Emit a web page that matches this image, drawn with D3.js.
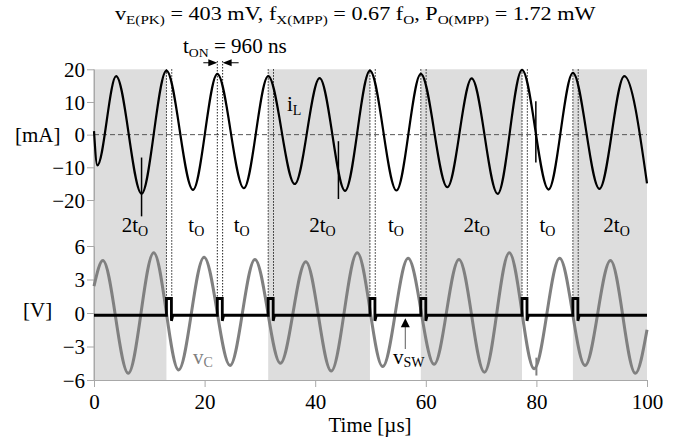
<!DOCTYPE html>
<html>
<head>
<meta charset="utf-8">
<script src="https://cdn.jsdelivr.net/npm/d3@7"></script>
<style>
  body { margin: 0; background: #fff; }
  svg text { font-family: "Liberation Serif", "Times New Roman", serif; }
</style>
</head>
<body>
<div id="chart"></div>
<script>
// values read off the scope capture (time in us)
// inductor current i_L [mA] : extrema + ends
const iL = [
  [0, 1.1], [0.6, -9.4], [4.0, 17.9], [8.6, -18.1], [13.1, 19.6], [17.9, -16.9],
  [22.3, 18.6], [27.1, -16.4], [31.5, 17.9], [36.3, -15.1], [40.8, 17.3], [45.4, -17.2],
  [49.9, 19.6], [54.7, -17.1], [59.1, 18.6], [63.9, -16.1], [68.3, 17.2], [73.0, -18.1],
  [77.4, 19.8], [82.2, -16.8], [86.6, 18.9], [91.4, -16.6], [95.9, 17.9], [100, -14.9]
];
// glitches on i_L : [t, from, to]
const iLSpikes = [[8.6, -7, -25], [44.2, -2, -19.7], [79.9, 10.2, -8.5]];

// capacitor voltage v_C [V]
const vC = [
  [0, 2.4], [1.6, 4.7], [6.2, -5.4], [10.8, 5.4], [15.3, -5.1], [19.9, 5.0],
  [24.6, -4.7], [29.1, 4.8], [33.7, -4.5], [38.3, 4.6], [42.9, -5.2], [47.6, 5.4],
  [52.2, -4.8], [56.8, 4.9], [61.5, -4.6], [66.0, 4.8], [70.6, -5.3], [75.1, 5.4],
  [79.6, -5.0], [84.2, 4.9], [88.8, -4.7], [93.4, 4.7], [97.9, -5.4], [100, -1.5]
];
const vCSpikes = [[80.0, -4.0, -5.6]];

// switch events
const switchTimes = [13.1, 22.3, 31.5, 49.9, 59.1, 77.4, 86.6];
const tOn = 0.96;
const vswBase = -0.2, vswHigh = 1.3, vswDip = -0.7;

// shaded (2tO) intervals
const grayBands = [[0, 13.1], [31.5, 49.9], [59.1, 77.4], [86.6, 100]];
const intervalLabels = [
  [7.4, "2"], [18.5, ""], [26.7, ""], [41.3, "2"], [54.6, ""], [69.2, "2"], [82.0, ""], [94.5, "2"]
];

const xTicks = [0, 20, 40, 60, 80, 100];
const iTicks = [-20, -10, 0, 10, 20];
const vTicks = [-6, -3, 0, 3, 6];

// ---- layout
const W = 696, H = 439;
const x = d3.scaleLinear().domain([0, 100]).range([94, 647]);
const yTop = d3.scaleLinear().domain([-20, 20]).range([200, 69.3]);
const yBot = d3.scaleLinear().domain([-6, 6]).range([380, 246]);

const svg = d3.select("#chart").append("svg")
    .attr("width", W).attr("height", H);

const minus = d => (d < 0 ? "\u2212" + Math.abs(d) : "" + d);

// gray bands over both panels
svg.selectAll(".band")
    .data(grayBands)
    .enter().append("rect")
    .attr("class", "band")
    .attr("x", d => x(d[0]))
    .attr("width", d => x(d[1]) - x(d[0]))
    .attr("y", yTop(20))
    .attr("height", yBot(-6) - yTop(20))
    .attr("fill", "#dddddd");

// axes
function styleAxis(g) {
    g.selectAll("path.domain").attr("stroke", "#a8a8a8");
    g.selectAll(".tick line").attr("stroke", "#a8a8a8");
    g.selectAll(".tick text")
        .style("font-family", '"Liberation Serif", serif')
        .style("font-size", "21px")
        .attr("fill", "#000");
}

svg.append("g")
    .attr("transform", `translate(${x(0)},0)`)
    .call(d3.axisLeft(yTop).tickValues(iTicks).tickFormat(minus).tickSize(7).tickSizeOuter(0).tickPadding(2))
    .call(styleAxis)
    .call(g => g.selectAll(".tick text").attr("dy", "0.34em"));

svg.append("g")
    .attr("transform", `translate(${x(0)},0)`)
    .call(d3.axisLeft(yBot).tickValues(vTicks).tickFormat(minus).tickSize(7).tickSizeOuter(0).tickPadding(2))
    .call(styleAxis)
    .call(g => g.selectAll(".tick text").attr("dy", "0.34em"));

// connect the left axis through the gap
svg.append("line")
    .attr("x1", x(0)).attr("x2", x(0))
    .attr("y1", yTop(20)).attr("y2", yBot(-6))
    .attr("stroke", "#a8a8a8");

svg.append("g")
    .attr("transform", `translate(0,${yBot(-6)})`)
    .call(d3.axisBottom(x).tickValues(xTicks).tickSize(7).tickSizeOuter(0).tickPadding(7))
    .call(styleAxis);

// zero line of the current panel
svg.append("line")
    .attr("x1", x(0)).attr("x2", x(100))
    .attr("y1", yTop(0)).attr("y2", yTop(0))
    .attr("stroke", "#555")
    .attr("stroke-dasharray", "5,3");

// dotted switch markers
const markers = [];
switchTimes.forEach(s => {
    const top = s === 22.3 ? 22.5 : 20;
    markers.push({ t: s, top }, { t: s + tOn, top });
});
svg.selectAll(".mark")
    .data(markers)
    .enter().append("line")
    .attr("class", "mark")
    .attr("x1", d => x(d.t)).attr("x2", d => x(d.t))
    .attr("y1", d => yTop(d.top))
    .attr("y2", yBot(vswHigh))
    .attr("stroke", "#000")
    .attr("stroke-width", 1)
    .attr("stroke-dasharray", "1.3,1.7");

// v_C
const lineBot = d3.line().x(d => x(d[0])).y(d => yBot(d[1])).curve(d3.curveMonotoneX);
svg.append("path")
    .datum(vC)
    .attr("d", lineBot)
    .attr("fill", "none")
    .attr("stroke", "#808080")
    .attr("stroke-width", 3);
svg.selectAll(".vcspike")
    .data(vCSpikes)
    .enter().append("line")
    .attr("x1", d => x(d[0])).attr("x2", d => x(d[0]))
    .attr("y1", d => yBot(d[1])).attr("y2", d => yBot(d[2]))
    .attr("stroke", "#808080").attr("stroke-width", 2);

// v_SW pulses
const vsw = [[0, vswBase]];
switchTimes.forEach(s => {
    vsw.push([s, vswBase], [s, vswHigh], [s + 0.9, vswHigh], [s + 0.9, vswDip], [s + 1.15, vswBase]);
});
vsw.push([100, vswBase]);
svg.append("path")
    .datum(vsw)
    .attr("d", d3.line().x(d => x(d[0])).y(d => yBot(d[1])))
    .attr("fill", "none")
    .attr("stroke", "#000")
    .attr("stroke-width", 2.8);

// i_L
const lineTop = d3.line().x(d => x(d[0])).y(d => yTop(d[1])).curve(d3.curveMonotoneX);
svg.append("path")
    .datum(iL)
    .attr("d", lineTop)
    .attr("fill", "none")
    .attr("stroke", "#000")
    .attr("stroke-width", 2.2);
svg.selectAll(".ilspike")
    .data(iLSpikes)
    .enter().append("line")
    .attr("x1", d => x(d[0])).attr("x2", d => x(d[0]))
    .attr("y1", d => yTop(d[1])).attr("y2", d => yTop(d[2]))
    .attr("stroke", "#000").attr("stroke-width", 1.5);

function fitWidth(t, x0, target) {
    const w = t.node().getBBox().width;
    const k = target / w;
    t.attr("transform", `translate(${x0},0) scale(${k},1) translate(${-x0},0)`);
}

// interval labels
intervalLabels.forEach(d => {
    const t = svg.append("text")
        .attr("x", x(d[0])).attr("y", 232)
        .attr("text-anchor", "middle")
        .style("font-size", "21px");
    t.append("tspan").text(d[1] + "t");
    t.append("tspan").text("O").style("font-size", "14px").attr("dy", 4);
});

// title
const title = svg.append("text").attr("x", 115).attr("y", 20).style("font-size", "19px");
[["v"], ["E(PK)", 1], [" = 403 mV, f", 0, 1], ["X(MPP)", 1], [" = 0.67 f", 0, 1], ["O", 1],
 [", P", 0, 1], ["O(MPP)", 1], [" = 1.72 mW", 0, 1]].forEach(p => {
    const sp = title.append("tspan").text(p[0]);
    if (p[1]) sp.style("font-size", "13px").attr("dy", 4);
    else if (p[2]) sp.attr("dy", -4);
});
fitWidth(title, 115, 481);

// t_ON annotation
const ton = svg.append("text").attr("x", 183).attr("y", 53).style("font-size", "20px");
ton.append("tspan").text("t");
ton.append("tspan").text("ON").style("font-size", "13px").attr("dy", 4);
ton.append("tspan").text(" = 960 ns").attr("dy", -4);
fitWidth(ton, 183, 104);

const arrowY = yTop(22);
const a1 = x(22.3), a2 = x(22.3 + tOn);
svg.append("line").attr("x1", a1 - 14).attr("x2", a1 - 6).attr("y1", arrowY).attr("y2", arrowY)
    .attr("stroke", "#000").attr("stroke-width", 1);
svg.append("path").attr("d", `M${a1},${arrowY} L${a1 - 9},${arrowY - 3.5} L${a1 - 9},${arrowY + 3.5} Z`).attr("fill", "#000");
svg.append("line").attr("x1", a2 + 6).attr("x2", a2 + 16).attr("y1", arrowY).attr("y2", arrowY)
    .attr("stroke", "#000").attr("stroke-width", 1);
svg.append("path").attr("d", `M${a2},${arrowY} L${a2 + 9},${arrowY - 3.5} L${a2 + 9},${arrowY + 3.5} Z`).attr("fill", "#000");

// unit labels
svg.append("text").attr("x", 15).attr("y", 142).style("font-size", "21px").text("[mA]");
svg.append("text").attr("x", 23).attr("y", 317).style("font-size", "21px").text("[V]");
svg.append("text").attr("x", 370).attr("y", 432).attr("text-anchor", "middle")
    .style("font-size", "21px").text("Time [\u00b5s]");

// trace labels
const il = svg.append("text").attr("x", 287).attr("y", 111).style("font-size", "21px");
il.append("tspan").text("i");
il.append("tspan").text("L").style("font-size", "14px").attr("dy", 4);

const vc = svg.append("text").attr("x", 193).attr("y", 364).style("font-size", "21px").style("fill", "#808080");
vc.append("tspan").text("v");
vc.append("tspan").text("C").style("font-size", "14px").attr("dy", 3);

const vs = svg.append("text").attr("x", 393).attr("y", 364).style("font-size", "21px");
vs.append("tspan").text("v");
vs.append("tspan").text("SW").style("font-size", "14px").attr("dy", 3);

// v_SW pointer
const px = x(56.3);
svg.append("line").attr("x1", px).attr("x2", px).attr("y1", yBot(vswBase) + 11).attr("y2", 349)
    .attr("stroke", "#777").attr("stroke-width", 1.2);
svg.append("path")
    .attr("d", `M${px},${yBot(vswBase) + 3} L${px - 4.5},${yBot(vswBase) + 12} L${px + 4.5},${yBot(vswBase) + 12} Z`)
    .attr("fill", "#000");
</script>
</body>
</html>
